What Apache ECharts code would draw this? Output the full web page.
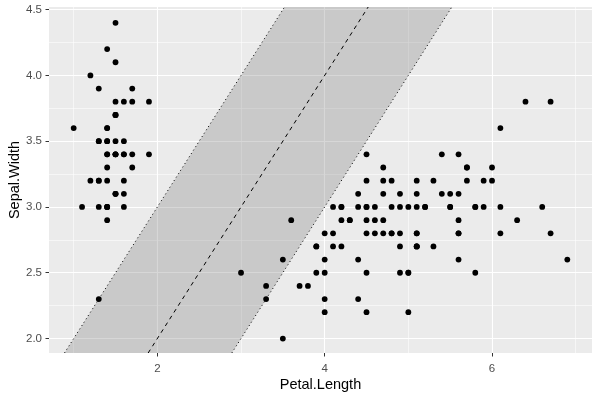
<!DOCTYPE html>
<html>
<head>
<meta charset="utf-8">
<script src="https://cdn.jsdelivr.net/npm/echarts@6/dist/echarts.min.js"></script>
<style>html,body{margin:0;padding:0;background:#fff}#c{width:600px;height:400px}</style>
</head>
<body>
<div id="c"></div>
<script>
// iris: Petal.Length and Sepal.Width
const petalLength = [
1.4,1.4,1.3,1.5,1.4,1.7,1.4,1.5,1.4,1.5,1.5,1.6,1.4,1.1,1.2,1.5,1.3,1.4,1.7,1.5,1.7,1.5,1.0,1.7,1.9,1.6,1.6,1.5,1.4,1.6,1.6,1.5,1.5,1.4,1.5,1.2,1.3,1.4,1.3,1.5,1.3,1.3,1.3,1.6,1.9,1.4,1.6,1.4,1.5,1.4,
4.7,4.5,4.9,4.0,4.6,4.5,4.7,3.3,4.6,3.9,3.5,4.2,4.0,4.7,3.6,4.4,4.5,4.1,4.5,3.9,4.8,4.0,4.9,4.7,4.3,4.4,4.8,5.0,4.5,3.5,3.8,3.7,3.9,5.1,4.5,4.5,4.7,4.4,4.1,4.0,4.4,4.6,4.0,3.3,4.2,4.2,4.2,4.3,3.0,4.1,
6.0,5.1,5.9,5.6,5.8,6.6,4.5,6.3,5.8,6.1,5.1,5.3,5.5,5.0,5.1,5.3,5.5,6.7,6.9,5.0,5.7,4.9,6.7,4.9,5.7,6.0,4.8,4.9,5.6,5.8,6.1,6.4,5.6,5.1,5.6,6.1,5.6,5.5,4.8,5.4,5.6,5.1,5.1,5.9,5.7,5.2,5.0,5.2,5.4,5.1
];
const sepalWidth = [
3.5,3.0,3.2,3.1,3.6,3.9,3.4,3.4,2.9,3.1,3.7,3.4,3.0,3.0,4.0,4.4,3.9,3.5,3.8,3.8,3.4,3.7,3.6,3.3,3.4,3.0,3.4,3.5,3.4,3.2,3.1,3.4,4.1,4.2,3.1,3.2,3.5,3.6,3.0,3.4,3.5,2.3,3.2,3.5,3.8,3.0,3.8,3.2,3.7,3.3,
3.2,3.2,3.1,2.3,2.8,2.8,3.3,2.4,2.9,2.7,2.0,3.0,2.2,2.9,2.9,3.1,3.0,2.7,2.2,2.5,3.2,2.8,2.5,2.8,2.9,3.0,2.8,3.0,2.9,2.6,2.4,2.4,2.7,2.7,3.0,3.4,3.1,2.3,3.0,2.5,2.6,3.0,2.6,2.3,2.7,3.0,2.9,2.9,2.5,2.8,
3.3,2.7,3.0,2.9,3.0,3.0,2.5,2.9,2.5,3.6,3.2,2.7,3.0,2.5,2.8,3.2,3.0,3.8,2.6,2.2,3.2,2.8,2.8,2.7,3.3,3.2,2.8,3.0,2.8,3.0,2.8,3.8,2.8,2.8,2.6,3.0,3.4,3.1,3.0,3.1,3.1,3.1,2.7,3.2,3.3,3.0,2.5,3.0,3.4,3.0
];
// reference line y = slope*x + intercept, with band of +/- halfWidth (vertical offset)
const lineSlope = [1];
const lineIntercept = [0];
const bandHalfWidth = [1];
// axis limits and ticks
const xLimits = [0.705, 7.195];
const yLimits = [1.89, 4.52];
const xTicks = [2, 4, 6];
const yTicks = [2.0, 2.5, 3.0, 3.5, 4.0, 4.5];
const xMinorTicks = [1, 3, 5, 7];
const yMinorTicks = [2.25, 2.75, 3.25, 3.75, 4.25];

const slope = lineSlope[0], icpt = lineIntercept[0], hw = bandHalfWidth[0];
const xAt = (y, c) => (y - c) / slope;
function segment(c) {
  return [[xAt(yLimits[0], c), yLimits[0]], [xAt(yLimits[1], c), yLimits[1]]];
}
const bandPoly = [
  [xAt(yLimits[0], icpt + hw), yLimits[0]],
  [xAt(yLimits[1], icpt + hw), yLimits[1]],
  [xAt(yLimits[1], icpt - hw), yLimits[1]],
  [xAt(yLimits[0], icpt - hw), yLimits[0]]
];

const points = petalLength.map((v, i) => [v, sepalWidth[i]]);
const font = '"Liberation Sans", Arial, sans-serif';

const gridLines = []
  .concat(xMinorTicks.map(v => ({xAxis: v, lineStyle: {color: '#fff', width: 0.55, type: 'solid'}})))
  .concat(yMinorTicks.map(v => ({yAxis: v, lineStyle: {color: '#fff', width: 0.55, type: 'solid'}})))
  .concat(xTicks.map(v => ({xAxis: v, lineStyle: {color: '#fff', width: 1.1, type: 'solid'}})))
  .concat(yTicks.map(v => ({yAxis: v, lineStyle: {color: '#fff', width: 1.1, type: 'solid'}})));

const chart = echarts.init(document.getElementById('c'), null, {renderer: 'canvas'});
chart.setOption({
  animation: false,
  backgroundColor: '#ffffff',
  grid: {left: 49, right: 8, top: 7, bottom: 47, show: true, backgroundColor: '#EBEBEB', borderWidth: 0,
    containLabel: false, outerBoundsMode: 'none'},
  xAxis: {
    type: 'value', min: xLimits[0], max: xLimits[1],
    name: 'Petal.Length', nameLocation: 'middle', nameGap: 24, nameMoveOverlap: false,
    nameTextStyle: {color: '#000', fontSize: 14.5, fontFamily: font},
    axisLine: {show: false},
    axisTick: {show: true, length: 3.5, customValues: xTicks, lineStyle: {color: '#333', width: 1}},
    axisLabel: {color: '#4D4D4D', fontSize: 11.5, fontFamily: font, margin: 10, customValues: xTicks,
      formatter: v => String(v)},
    splitLine: {show: false}
  },
  yAxis: {
    type: 'value', min: yLimits[0], max: yLimits[1],
    name: 'Sepal.Width', nameLocation: 'middle', nameGap: 27, nameRotate: 90, nameMoveOverlap: false,
    nameTextStyle: {color: '#000', fontSize: 14.5, fontFamily: font},
    axisLine: {show: false},
    axisTick: {show: true, length: 3.5, customValues: yTicks, lineStyle: {color: '#333', width: 1}},
    axisLabel: {color: '#4D4D4D', fontSize: 11.5, fontFamily: font, margin: 7, customValues: yTicks,
      formatter: v => Number(v).toFixed(1)},
    splitLine: {show: false}
  },
  series: [
    {
      type: 'custom', z: 2, silent: true,
      data: [0],
      renderItem: function (params, api) {
        const pts = bandPoly.map(p => api.coord(p));
        return {type: 'polygon', shape: {points: pts}, style: {fill: 'rgba(127,127,127,0.31)'}};
      },
      markLine: {
        silent: true, z: 1, symbol: ['none', 'none'], label: {show: false},
        emphasis: {disabled: true},
        data: gridLines
      }
    },
    {type: 'line', z: 3, data: segment(icpt + hw), symbol: 'none', silent: true,
      lineStyle: {color: '#000', width: 1, type: [1, 3]}},
    {type: 'line', z: 3, data: segment(icpt - hw), symbol: 'none', silent: true,
      lineStyle: {color: '#000', width: 1, type: [1, 3]}},
    {type: 'line', z: 3, data: segment(icpt), symbol: 'none', silent: true,
      lineStyle: {color: '#000', width: 1, type: [4, 4]}},
    {type: 'scatter', z: 4, data: points, symbol: 'circle', symbolSize: 5.8,
      itemStyle: {color: '#000', opacity: 1}}
  ]
});
</script>
</body>
</html>
